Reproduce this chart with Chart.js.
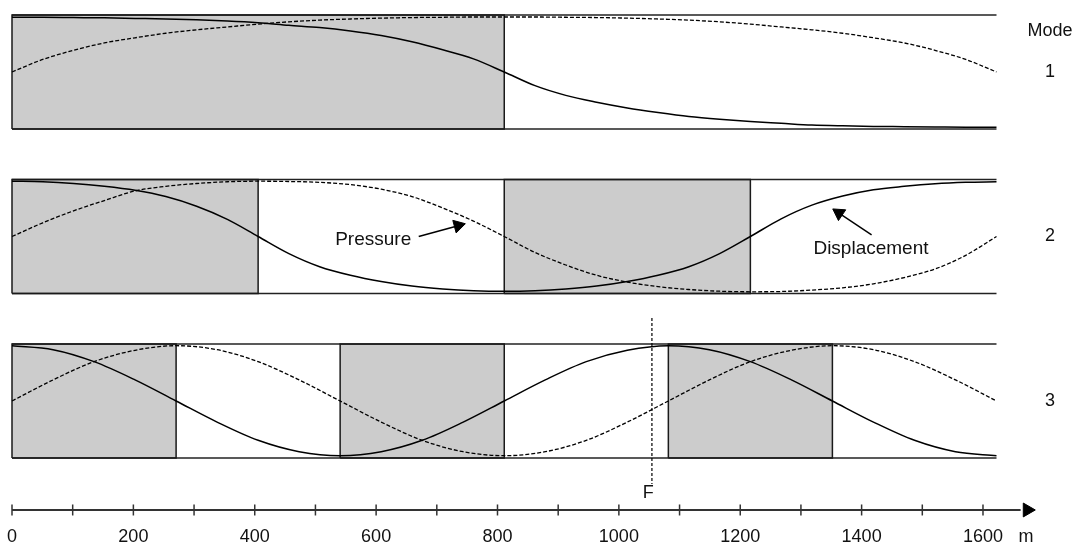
<!DOCTYPE html>
<html>
<head>
<meta charset="utf-8">
<script src="https://cdn.jsdelivr.net/npm/chart.js@4.4.1/dist/chart.umd.min.js"></script>
<style>
  html, body { margin: 0; padding: 0; background: #ffffff; }
  #c { display: block; }
</style>
</head>
<body>
<canvas id="c" width="1079" height="548"></canvas>
<script>
// ---------------- DATA ----------------
// positions along the basin (m), modes 1 and 2
const POSITIONS_A = [0, 50, 100, 150, 200, 250, 300, 350, 400, 450, 500, 550, 600, 650, 700, 750, 800,
  850, 900, 950, 1000, 1050, 1100, 1150, 1200, 1250, 1300, 1350, 1400, 1450, 1500, 1550, 1600];
// normalised amplitudes (-1 .. 1)
const MODE1_DISPLACEMENT = [0.96, 0.96, 0.955, 0.95, 0.94, 0.93, 0.915, 0.895, 0.865, 0.82, 0.78, 0.72, 0.64, 0.53, 0.39, 0.23, 0.0,
  -0.24, -0.41, -0.53, -0.63, -0.71, -0.78, -0.83, -0.87, -0.90, -0.93, -0.945, -0.955, -0.96, -0.965, -0.97, -0.97];
const MODE1_PRESSURE = [0.0, 0.22, 0.38, 0.51, 0.60, 0.68, 0.74, 0.79, 0.84, 0.88, 0.91, 0.93, 0.945, 0.955, 0.96, 0.965, 0.965,
  0.965, 0.96, 0.955, 0.945, 0.93, 0.91, 0.88, 0.84, 0.79, 0.74, 0.68, 0.60, 0.51, 0.38, 0.22, 0.0];
const MODE2_DISPLACEMENT = [0.97, 0.96, 0.93, 0.88, 0.81, 0.70, 0.53, 0.30, 0.0, -0.30, -0.53, -0.68, -0.79, -0.87, -0.92, -0.95, -0.96,
  -0.95, -0.92, -0.87, -0.79, -0.68, -0.53, -0.30, 0.0, 0.31, 0.55, 0.71, 0.82, 0.88, 0.925, 0.95, 0.96];
const MODE2_PRESSURE = [0.0, 0.24, 0.45, 0.63, 0.80, 0.88, 0.93, 0.96, 0.97, 0.965, 0.95, 0.91, 0.83, 0.70, 0.50, 0.27, 0.0,
  -0.28, -0.50, -0.68, -0.80, -0.88, -0.93, -0.96, -0.97, -0.965, -0.94, -0.90, -0.83, -0.72, -0.57, -0.33, 0.0];
// positions along the basin (m), mode 3
const POSITIONS_B = [0, 66.7, 133.3, 200, 266.7, 333.3, 400, 466.7, 533.3, 600, 666.7, 733.3, 800,
  866.7, 933.3, 1000, 1066.7, 1133.3, 1200, 1266.7, 1333.3, 1400, 1466.7, 1533.3, 1600];
const MODE3_DISPLACEMENT = [0.97, 0.90, 0.69, 0.37, 0.0, -0.37, -0.69, -0.89, -0.96, -0.89, -0.69, -0.37, 0.0,
  0.37, 0.69, 0.89, 0.97, 0.90, 0.69, 0.37, 0.0, -0.37, -0.69, -0.89, -0.96];
const MODE3_PRESSURE = [0.0, 0.37, 0.69, 0.89, 0.97, 0.90, 0.69, 0.37, 0.0, -0.37, -0.69, -0.89, -0.96,
  -0.89, -0.69, -0.37, 0.0, 0.37, 0.69, 0.89, 0.97, 0.90, 0.69, 0.37, 0.0];
// shaded reaches [from, to] in m
const SHADED_MODE1 = [[0, 800]];
const SHADED_MODE2 = [[0, 400], [800, 1200]];
const SHADED_MODE3 = [[0, 266.7], [533.3, 800], [1066.7, 1333.3]];
const MODE_LABELS = ['1', '2', '3'];
const BASIN_LENGTH = 1600;
const RULER_TICKS = [0, 100, 200, 300, 400, 500, 600, 700, 800, 900, 1000, 1100, 1200, 1300, 1400, 1500, 1600];
const TICK_LABELS = [0, 200, 400, 600, 800, 1000, 1200, 1400, 1600];
const F_POSITION = 1040;

// ---------------- LAYOUT ----------------
const X_MAX = 1703.2;                          // drawing extends right of the basin (labels, arrow)
const Y_MAX = 1.263, Y_MIN = -8.351;          // vertical extent of the drawing (panel units)
const PANEL_CENTERS = [0, -2.886, -5.772];     // centre of each mode panel
const RULER_Y = -7.684;
const RULER_MAX = 1726.9;
const FONT = '"Liberation Sans", Arial, Helvetica, sans-serif';
const INK = '#111111';

Chart.defaults.font.family = FONT;
Chart.defaults.color = INK;

const modes = [
  { shaded: SHADED_MODE1, pos: POSITIONS_A, disp: MODE1_DISPLACEMENT, pres: MODE1_PRESSURE },
  { shaded: SHADED_MODE2, pos: POSITIONS_A, disp: MODE2_DISPLACEMENT, pres: MODE2_PRESSURE },
  { shaded: SHADED_MODE3, pos: POSITIONS_B, disp: MODE3_DISPLACEMENT, pres: MODE3_PRESSURE },
];

const base = { pointRadius: 0, pointHoverRadius: 0, fill: false, clip: false, tension: 0 };
const datasets = [];

modes.forEach((m, k) => {
  const c = PANEL_CENTERS[k];
  m.shaded.forEach(([a, b]) => {
    datasets.push({ ...base, data: [{ x: a, y: c + 1 }, { x: b, y: c + 1 }],
      fill: { value: c - 1 }, backgroundColor: '#cccccc', borderColor: 'rgba(0,0,0,0)', borderWidth: 1, order: 10 });
    datasets.push({ ...base, data: [{ x: a, y: c - 1 }, { x: a, y: c + 1 }, { x: b, y: c + 1 }, { x: b, y: c - 1 }, { x: a, y: c - 1 }],
      borderColor: '#1a1a1a', borderWidth: 1.5, order: 5 });
  });
  datasets.push({ ...base, data: [{ x: 0, y: c + 1 }, { x: BASIN_LENGTH, y: c + 1 }], borderColor: '#222222', borderWidth: 1.6, order: 5 });
  datasets.push({ ...base, data: [{ x: 0, y: c - 1 }, { x: BASIN_LENGTH, y: c - 1 }], borderColor: '#222222', borderWidth: 1.6, order: 5 });
  datasets.push({ ...base, data: m.pos.map((x, i) => ({ x, y: c + m.disp[i] })),
    cubicInterpolationMode: 'monotone', borderColor: '#000000', borderWidth: 1.5, order: 1 });
  datasets.push({ ...base, data: m.pos.map((x, i) => ({ x, y: c + m.pres[i] })),
    cubicInterpolationMode: 'monotone', borderColor: '#000000', borderWidth: 1.3, borderDash: [4, 2], order: 1 });
});

// annotation arrows (panel 2)
const c2 = PANEL_CENTERS[1];
datasets.push({ ...base, data: [{ x: 661, y: c2 + 0.0 }, { x: 725, y: c2 + 0.19 }], borderColor: '#000', borderWidth: 1.5, order: 0 });
datasets.push({ ...base, data: [{ x: 725, y: c2 + 0.19 }], showLine: false, pointRadius: 7.5, pointStyle: 'triangle',
  pointRotation: 75, pointBackgroundColor: '#000', pointBorderColor: '#000', pointBorderWidth: 1, order: 0 });
datasets.push({ ...base, data: [{ x: 1397, y: c2 + 0.03 }, { x: 1344, y: c2 + 0.41 }], borderColor: '#000', borderWidth: 1.5, order: 0 });
datasets.push({ ...base, data: [{ x: 1344, y: c2 + 0.41 }], showLine: false, pointRadius: 7.5, pointStyle: 'triangle',
  pointRotation: -56, pointBackgroundColor: '#000', pointBorderColor: '#000', pointBorderWidth: 1, order: 0 });

// F marker
datasets.push({ ...base, data: [{ x: F_POSITION, y: -4.316 }, { x: F_POSITION, y: -7.228 }],
  borderColor: '#000', borderWidth: 1.2, borderDash: [3, 2], order: 0 });

// distance ruler
datasets.push({ ...base, xAxisID: 'xr', data: [{ x: 0, y: RULER_Y }, { x: 1662, y: RULER_Y }],
  borderColor: '#333333', borderWidth: 2, order: 0 });
datasets.push({ ...base, xAxisID: 'xr', data: RULER_TICKS.map(v => ({ x: v, y: RULER_Y })), showLine: false,
  pointRadius: 5.5, pointStyle: 'line', pointRotation: 90, pointBorderColor: '#333333', pointBorderWidth: 1.5, order: 0 });
datasets.push({ ...base, xAxisID: 'xr', data: [{ x: 1673, y: RULER_Y }], showLine: false,
  pointRadius: 8, pointStyle: 'triangle', pointRotation: 90, pointBackgroundColor: '#000', pointBorderColor: '#000', pointBorderWidth: 1, order: 0 });

const TEXTS = [
  { text: 'Mode', x: 1687, y: 0.72, size: 18 },
  ...MODE_LABELS.map((t, k) => ({ text: t, x: 1687, y: PANEL_CENTERS[k], size: 18 })),
  { text: 'Pressure', x: 587, y: c2 - 0.05, size: 19 },
  { text: 'Displacement', x: 1396, y: c2 - 0.21, size: 19 },
  { text: 'F', x: 1034, y: -7.386, size: 18 },
];

const textPlugin = {
  id: 'texts',
  afterDraw(chart) {
    const { ctx, scales } = chart;
    ctx.save();
    ctx.fillStyle = INK;
    ctx.textAlign = 'center';
    ctx.textBaseline = 'middle';
    TEXTS.forEach(t => {
      ctx.font = t.size + 'px ' + FONT;
      ctx.fillText(t.text, scales.x.getPixelForValue(t.x), scales.y.getPixelForValue(t.y));
    });
    ctx.font = '18px ' + FONT;
    ctx.fillText('m', scales.xr.getPixelForValue(1671), scales.y.getPixelForValue(-8.158));
    ctx.restore();
  }
};

new Chart(document.getElementById('c'), {
  type: 'line',
  data: { datasets },
  options: {
    responsive: false,
    animation: false,
    devicePixelRatio: 1,
    events: [],
    layout: { autoPadding: false, padding: { left: 12, right: 19, top: 0, bottom: 0 } },
    plugins: { legend: { display: false }, tooltip: { enabled: false }, title: { display: false } },
    scales: {
      x: { type: 'linear', min: 0, max: X_MAX, display: false },
      y: { type: 'linear', min: Y_MIN, max: Y_MAX, display: false },
      xr: {
        type: 'linear', axis: 'x', position: { y: RULER_Y }, min: 0, max: RULER_MAX,
        grid: { display: false, drawTicks: false }, border: { display: false },
        afterBuildTicks: s => { s.ticks = TICK_LABELS.map(v => ({ value: v })); },
        ticks: { autoSkip: false, maxRotation: 0, padding: 0, color: INK,
          font: { size: 18, family: FONT, lineHeight: '54px' },
          callback: v => String(v) }
      }
    }
  },
  plugins: [textPlugin]
});
</script>
</body>
</html>
